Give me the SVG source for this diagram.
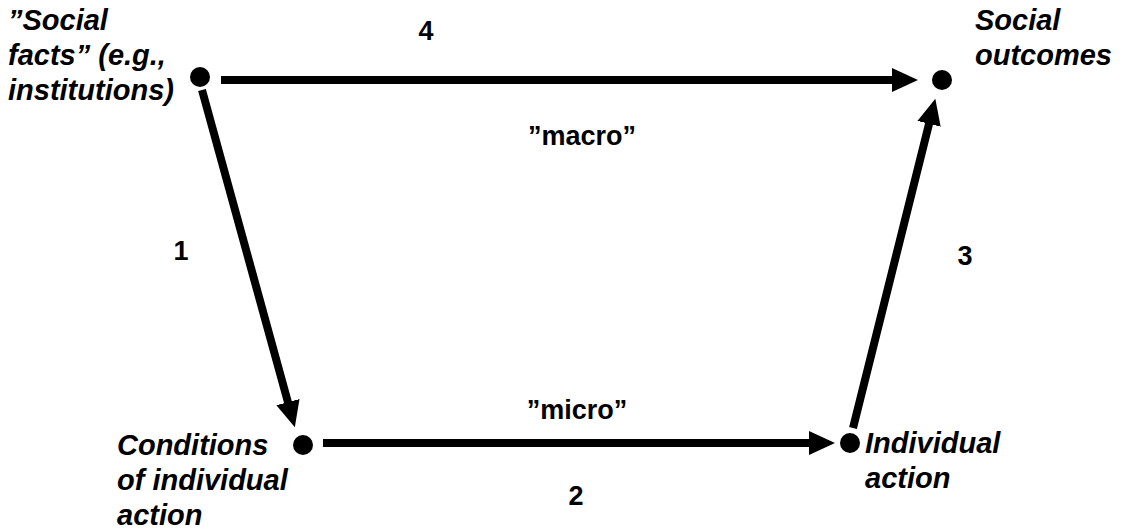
<svg xmlns="http://www.w3.org/2000/svg" width="1123" height="531" viewBox="0 0 1123 531">
<style>
.lbl{font-family:"Liberation Sans",Arial,sans-serif;font-weight:bold;font-style:italic;font-size:29px;fill:#000}
.num{font-family:"Liberation Sans",Arial,sans-serif;font-weight:bold;font-size:27px;fill:#000;text-anchor:middle}
.arr{stroke:#000;stroke-width:8;fill:none;marker-end:url(#ah)}
.dot{fill:#000}
</style>
<defs>
<marker id="ah" markerUnits="userSpaceOnUse" markerWidth="26" markerHeight="24" refX="4" refY="12" orient="auto" viewBox="0 0 26 24">
<path d="M0,0 L26,12 L0,24 z" fill="#000"/>
</marker>
</defs>
<rect width="1123" height="531" fill="#fff"/>
<g id="connectors">
<line class="arr" x1="221" y1="80" x2="896" y2="80"/>
<line class="arr" x1="202" y1="90" x2="289" y2="406"/>
<line class="arr" x1="323" y1="443" x2="813" y2="443"/>
<line class="arr" x1="853" y1="428" x2="930" y2="120"/>
</g>
<g id="n-social-facts">
<circle class="dot" cx="200" cy="77" r="10"/>
<text class="lbl" x="8" y="30">”Social</text>
<text class="lbl" x="8" y="65">facts” (e.g.,</text>
<text class="lbl" x="8" y="100">institutions)</text>
</g>
<g id="n-social-outcomes">
<circle class="dot" cx="942" cy="80" r="10"/>
<text class="lbl" x="975" y="30">Social</text>
<text class="lbl" x="975" y="65">outcomes</text>
</g>
<g id="n-conditions">
<circle class="dot" cx="303" cy="445" r="10"/>
<text class="lbl" x="117" y="455">Conditions</text>
<text class="lbl" x="117" y="490">of individual</text>
<text class="lbl" x="117" y="525">action</text>
</g>
<g id="n-individual-action">
<circle class="dot" cx="850" cy="443" r="10"/>
<text class="lbl" x="865" y="453">Individual</text>
<text class="lbl" x="865" y="488">action</text>
</g>
<g id="labels">
<text class="num" x="426" y="40">4</text>
<text class="num" x="582" y="145">”macro”</text>
<text class="num" x="181" y="260">1</text>
<text class="num" x="965" y="265">3</text>
<text class="num" x="577" y="419">”micro”</text>
<text class="num" x="576" y="505">2</text>
</g>
</svg>
